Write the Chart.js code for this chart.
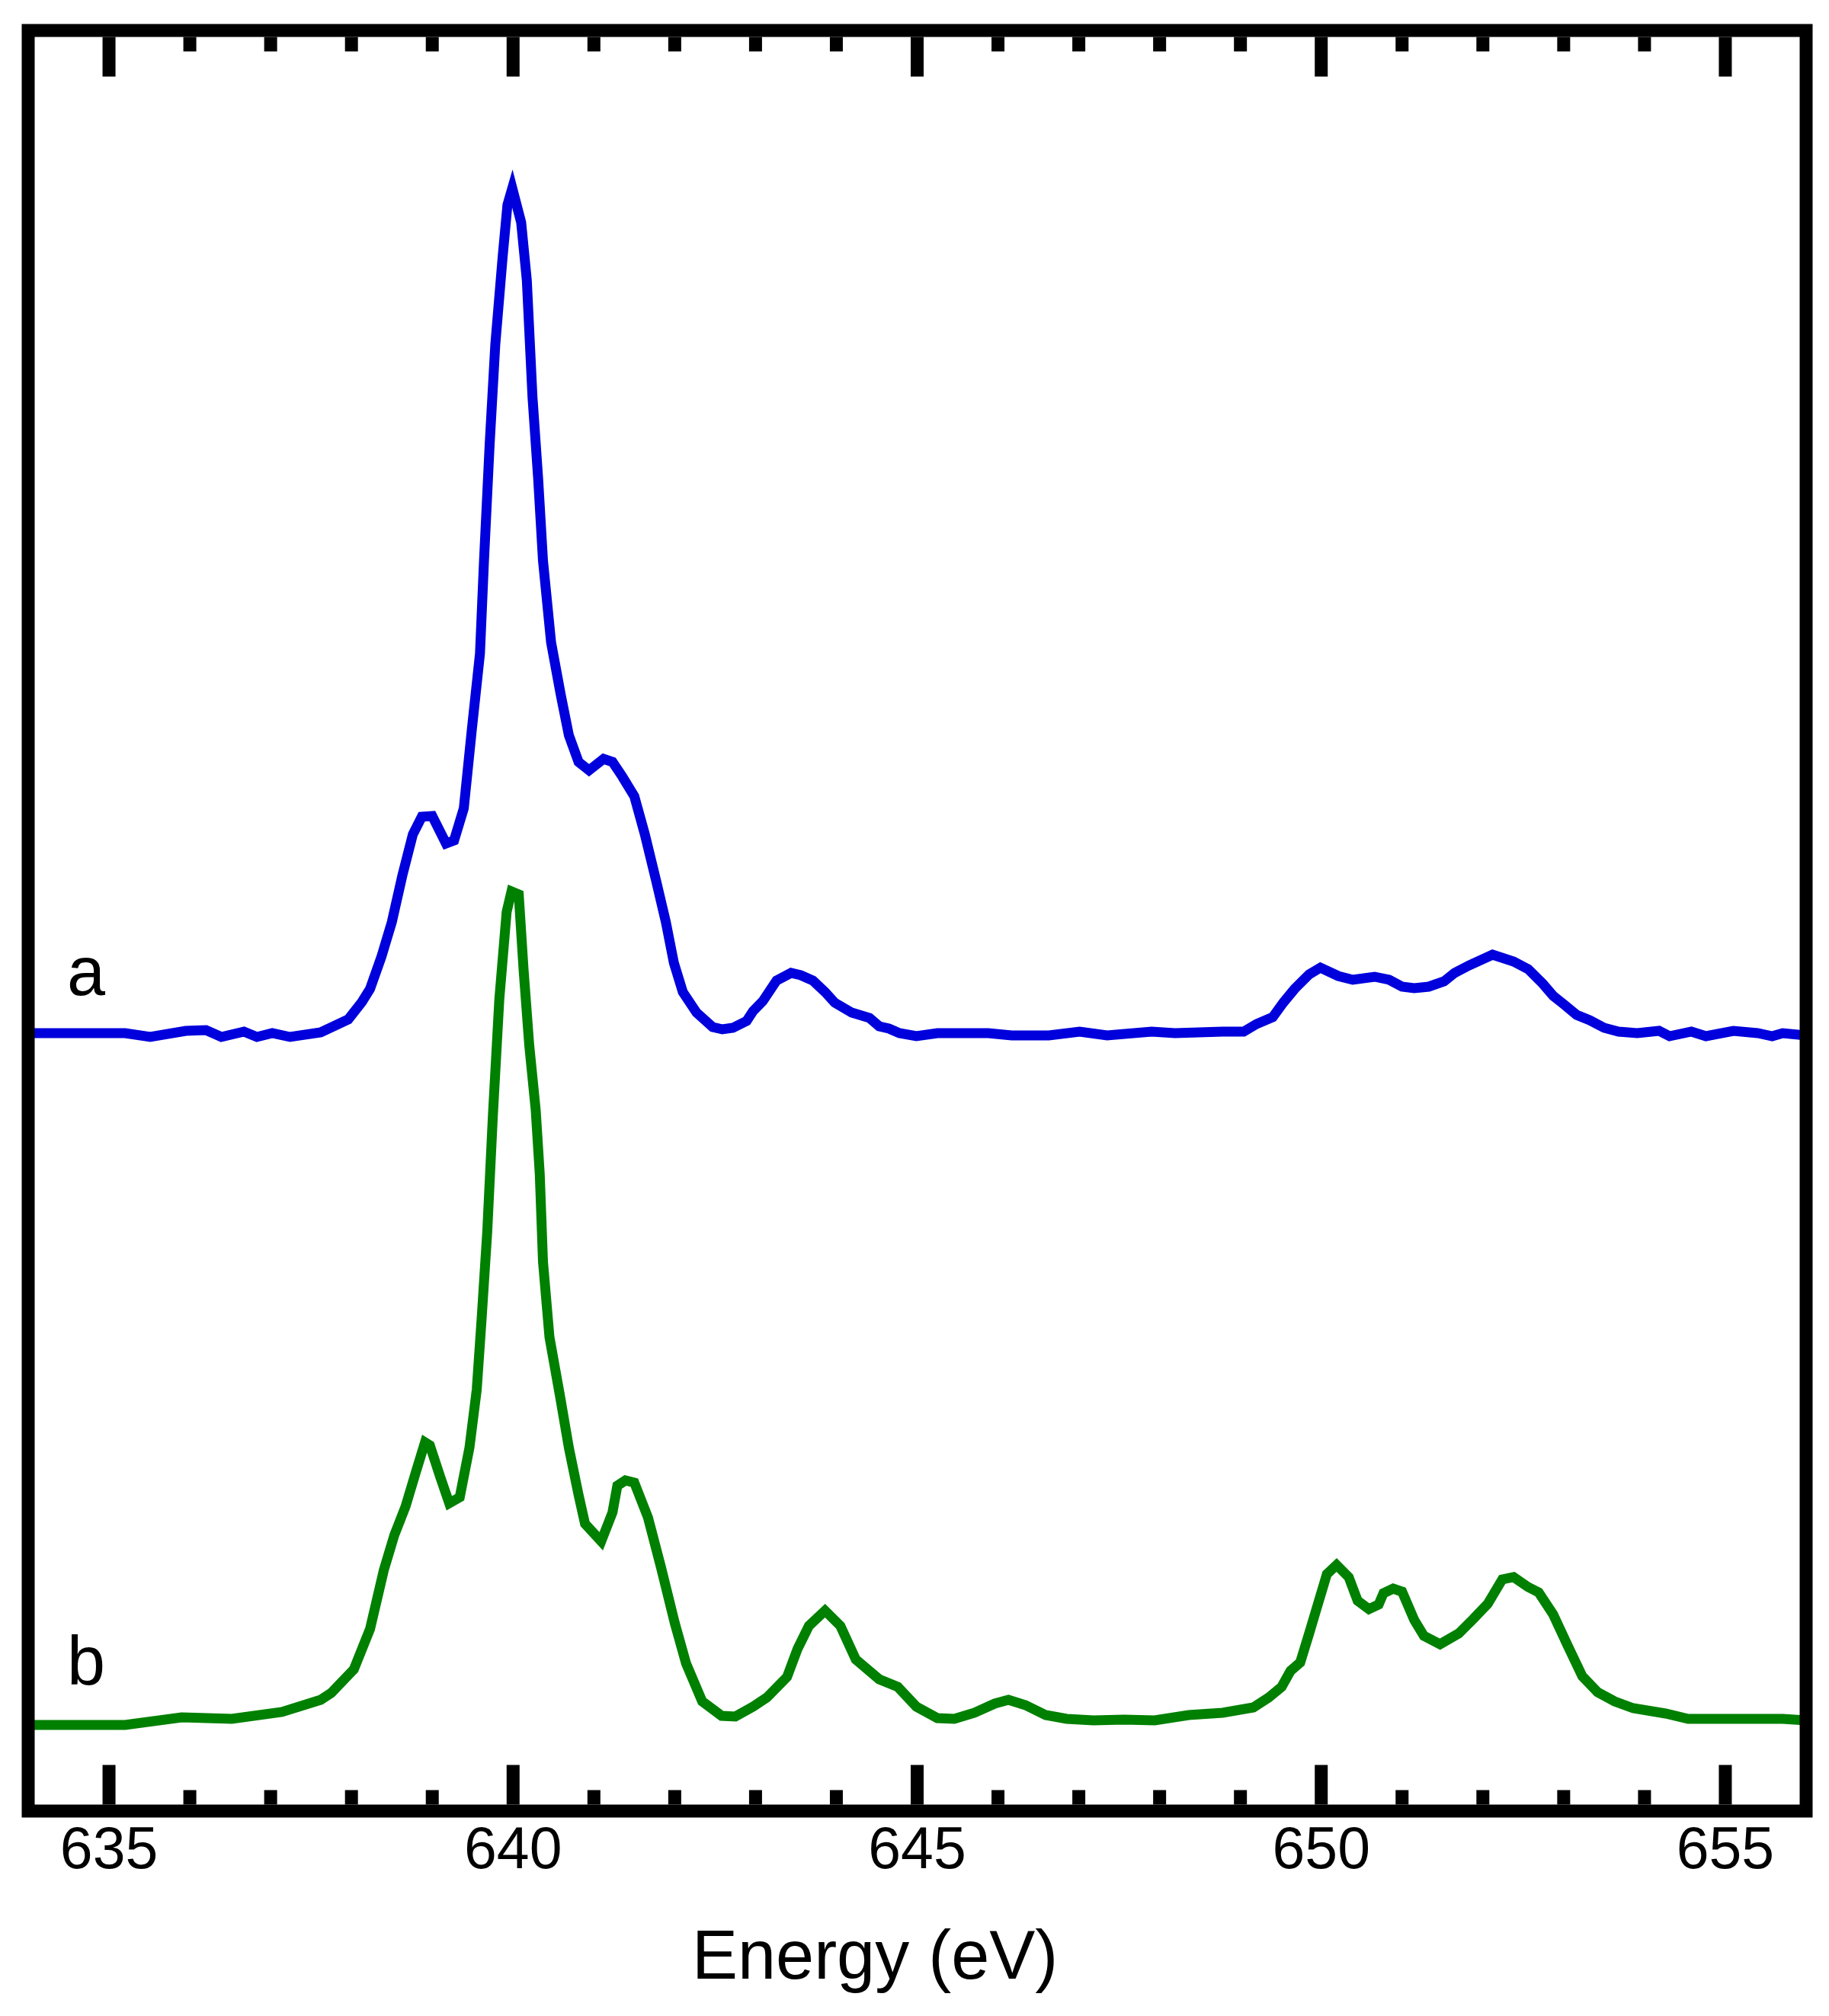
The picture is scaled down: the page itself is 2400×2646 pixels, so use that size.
<!DOCTYPE html>
<html>
<head>
<meta charset="utf-8">
<script src="https://cdn.jsdelivr.net/npm/chart.js@4.4.1/dist/chart.umd.min.js"></script>
<style>
    html, body { margin: 0; padding: 0; background: #fff; }
    #wrap { width: 2400px; height: 2646px; position: relative; }
</style>
</head>
<body>
<div id="wrap"><canvas id="spectrum"></canvas></div>
<script>
// Spectrum a (blue): energy (eV) / intensity (arb. units)
const energyA = [
    634.00, 634.60, 635.20, 635.51, 635.95, 636.20, 636.39, 636.67, 636.83, 637.02,
    637.24, 637.62, 637.96, 638.13, 638.23, 638.37, 638.50, 638.63, 638.76, 638.87,
    639.00, 639.17, 639.27, 639.39, 639.49, 639.59, 639.64, 639.71, 639.78, 639.87,
    639.93, 639.99, 640.10, 640.17, 640.24, 640.31, 640.37, 640.47, 640.59, 640.69,
    640.81, 640.94, 641.12, 641.23, 641.35, 641.50, 641.63, 641.77, 641.89, 641.99,
    642.10, 642.27, 642.47, 642.59, 642.72, 642.89, 642.97, 643.09, 643.26, 643.44,
    643.56, 643.71, 643.86, 643.98, 644.19, 644.41, 644.53, 644.65, 644.78, 644.99,
    645.25, 645.88, 646.17, 646.63, 647.01, 647.35, 647.90, 648.19, 648.78, 649.04,
    649.20, 649.40, 649.53, 649.67, 649.85, 649.99, 650.21, 650.39, 650.66, 650.84,
    651.00, 651.15, 651.33, 651.52, 651.65, 651.83, 652.12, 652.38, 652.56, 652.74,
    652.87, 653.00, 653.16, 653.32, 653.50, 653.68, 653.91, 654.18, 654.31, 654.58,
    654.76, 655.10, 655.40, 655.58, 655.71, 656.00
];
const intensityA = [
    102.1, 102.1, 102.1, 101.6, 102.4, 102.5, 101.6, 102.3, 101.6, 102.1,
    101.6, 102.2, 103.9, 106.2, 107.9, 112.1, 116.7, 122.8, 128.2, 130.5,
    130.6, 127.0, 127.4, 131.6, 142.0, 151.9, 164.1, 179.4, 192.5, 203.9,
    210.8, 213.0, 208.5, 200.9, 185.6, 174.9, 164.1, 153.4, 146.5, 141.2,
    137.7, 136.6, 138.1, 137.7, 135.8, 133.2, 128.2, 122.1, 116.7, 111.3,
    107.5, 104.8, 102.9, 102.6, 102.8, 103.7, 105.0, 106.3, 109.0, 110.0,
    109.7, 109.0, 107.5, 106.1, 104.8, 104.1, 103.0, 102.7, 102.1, 101.7,
    102.1, 102.1, 101.8, 101.8, 102.3, 101.8, 102.3, 102.1, 102.3, 102.3,
    103.3, 104.2, 106.1, 107.9, 109.8, 110.7, 109.6, 109.1, 109.5, 109.1,
    108.2, 108.0, 108.2, 108.9, 110.0, 111.0, 112.4, 111.5, 110.5, 108.6,
    107.0, 105.9, 104.5, 103.8, 102.8, 102.3, 102.1, 102.4, 101.7, 102.3,
    101.7, 102.4, 102.1, 101.7, 102.1, 101.8
];

// Spectrum b (green)
const energyB = [
    634.00, 635.20, 635.90, 636.52, 637.14, 637.62, 637.75, 638.03, 638.23, 638.40,
    638.53, 638.67, 638.80, 638.91, 638.97, 639.10, 639.21, 639.34, 639.46, 639.55,
    639.61, 639.68, 639.75, 639.83, 639.92, 639.98, 640.07, 640.13, 640.20, 640.28,
    640.33, 640.37, 640.45, 640.58, 640.69, 640.81, 640.89, 641.09, 641.23, 641.29,
    641.39, 641.50, 641.67, 641.83, 642.00, 642.14, 642.34, 642.58, 642.75, 642.97,
    643.14, 643.39, 643.52, 643.66, 643.86, 644.05, 644.24, 644.53, 644.76, 644.99,
    645.25, 645.46, 645.71, 645.96, 646.13, 646.34, 646.59, 646.85, 647.18, 647.56,
    647.94, 648.36, 648.78, 649.16, 649.35, 649.51, 649.62, 649.74, 649.85, 649.94,
    650.07, 650.19, 650.34, 650.45, 650.59, 650.71, 650.77, 650.89, 651.00, 651.15,
    651.27, 651.47, 651.70, 651.88, 652.06, 652.24, 652.38, 652.56, 652.69, 652.87,
    653.05, 653.23, 653.42, 653.63, 653.86, 654.26, 654.54, 654.81, 655.71, 656.00
];
const intensityB = [
    11.3, 11.3, 12.3, 12.1, 13.0, 14.6, 15.5, 18.6, 23.9, 31.6,
    36.2, 40.0, 44.6, 48.4, 48.0, 43.8, 40.4, 41.2, 47.7, 55.3,
    64.5, 76.0, 91.3, 106.6, 118.0, 120.7, 120.3, 110.4, 100.5, 92.0,
    83.6, 72.1, 62.2, 54.5, 47.7, 41.5, 37.7, 35.4, 39.2, 42.7,
    43.4, 43.1, 38.5, 32.0, 24.7, 19.4, 14.4, 12.5, 12.4, 13.7,
    14.9, 17.6, 21.3, 24.3, 26.3, 24.3, 19.9, 17.3, 16.3, 13.7,
    12.2, 12.1, 12.9, 14.1, 14.6, 13.9, 12.6, 12.1, 11.9, 12.0,
    11.9, 12.6, 12.9, 13.6, 14.9, 16.3, 18.4, 19.5, 23.3, 26.5,
    31.1, 32.3, 30.7, 27.6, 26.5, 27.1, 28.6, 29.2, 28.8, 25.1,
    23.0, 21.9, 23.3, 25.2, 27.2, 30.4, 30.7, 29.4, 28.7, 25.8,
    21.7, 17.7, 15.6, 14.4, 13.5, 12.8, 12.1, 12.1, 12.1, 11.9
];

// Axis ticks
const tickValues = [634, 635, 636, 637, 638, 639, 640, 641, 642, 643, 644, 645,
                    646, 647, 648, 649, 650, 651, 652, 653, 654, 655, 656];
const majorTicks = [635, 640, 645, 650, 655];
const xTitle = 'Energy (eV)';
const curveLabels = ['a', 'b'];

const FONT = '"Liberation Sans", Arial, sans-serif';
const FRAME_W = 17;

function toPoints(xs, ys) {
    return xs.map((x, i) => ({ x: x, y: ys[i] }));
}

// frame, inward ticks, curve labels and axis title
const framePlugin = {
    id: 'frame',
    afterDatasetsDraw(chart) {
        const { ctx, chartArea: a, scales } = chart;
        const xs = scales.x, ys = scales.y;
        ctx.save();
        ctx.fillStyle = '#000';
        // tick marks at top and bottom, pointing inward
        xs.ticks.forEach(t => {
            if (t.value <= xs.min || t.value >= xs.max) return;
            const px = xs.getPixelForValue(t.value);
            const len = majorTicks.includes(t.value) ? 52 : 19;
            const half = FRAME_W / 2;
            ctx.fillRect(px - half, a.top + half, FRAME_W, len);
            ctx.fillRect(px - half, a.bottom - half - len, FRAME_W, len);
        });
        ctx.strokeStyle = '#000';
        ctx.lineWidth = FRAME_W;
        ctx.lineJoin = 'miter';
        ctx.strokeRect(a.left, a.top, a.right - a.left, a.bottom - a.top);

        // curve labels, placed just above each baseline
        ctx.font = '90px ' + FONT;
        ctx.textAlign = 'left';
        ctx.textBaseline = 'alphabetic';
        ctx.fillText(curveLabels[0], xs.getPixelForValue(634.48), ys.getPixelForValue(107.1));
        ctx.fillText(curveLabels[1], xs.getPixelForValue(634.48), ys.getPixelForValue(16.6));

        // axis title
        ctx.fillText(xTitle, 908, 2597);
        ctx.restore();
    }
};

const ctx = document.getElementById('spectrum').getContext('2d');
new Chart(ctx, {
    type: 'line',
    data: {
        datasets: [
            {
                label: 'a',
                data: toPoints(energyA, intensityA),
                borderColor: '#0000dc',
                borderWidth: 13,
                pointRadius: 0,
                tension: 0,
                fill: false
            },
            {
                label: 'b',
                data: toPoints(energyB, intensityB),
                borderColor: '#008000',
                borderWidth: 13,
                pointRadius: 0,
                tension: 0,
                fill: false
            }
        ]
    },
    options: {
        responsive: true,
        maintainAspectRatio: false,
        animation: false,
        devicePixelRatio: 1,
        layout: { padding: { left: 37, right: 30, top: 40, bottom: 0 } },
        plugins: { legend: { display: false }, tooltip: { enabled: false } },
        scales: {
            x: {
                type: 'linear',
                min: 634,
                max: 656,
                grid: { display: false, drawTicks: false },
                border: { display: false },
                afterBuildTicks: s => { s.ticks = tickValues.map(v => ({ value: v })); },
                afterFit: s => { s.height = 269; },
                ticks: {
                    autoSkip: false,
                    maxRotation: 0,
                    padding: 8,
                    color: '#000',
                    font: { family: FONT, size: 77, lineHeight: 1.2 },
                    callback: v => majorTicks.includes(v) ? String(v) : ''
                }
            },
            y: {
                display: false,
                min: 0,
                max: 233.7
            }
        }
    },
    plugins: [framePlugin]
});
</script>
</body>
</html>
